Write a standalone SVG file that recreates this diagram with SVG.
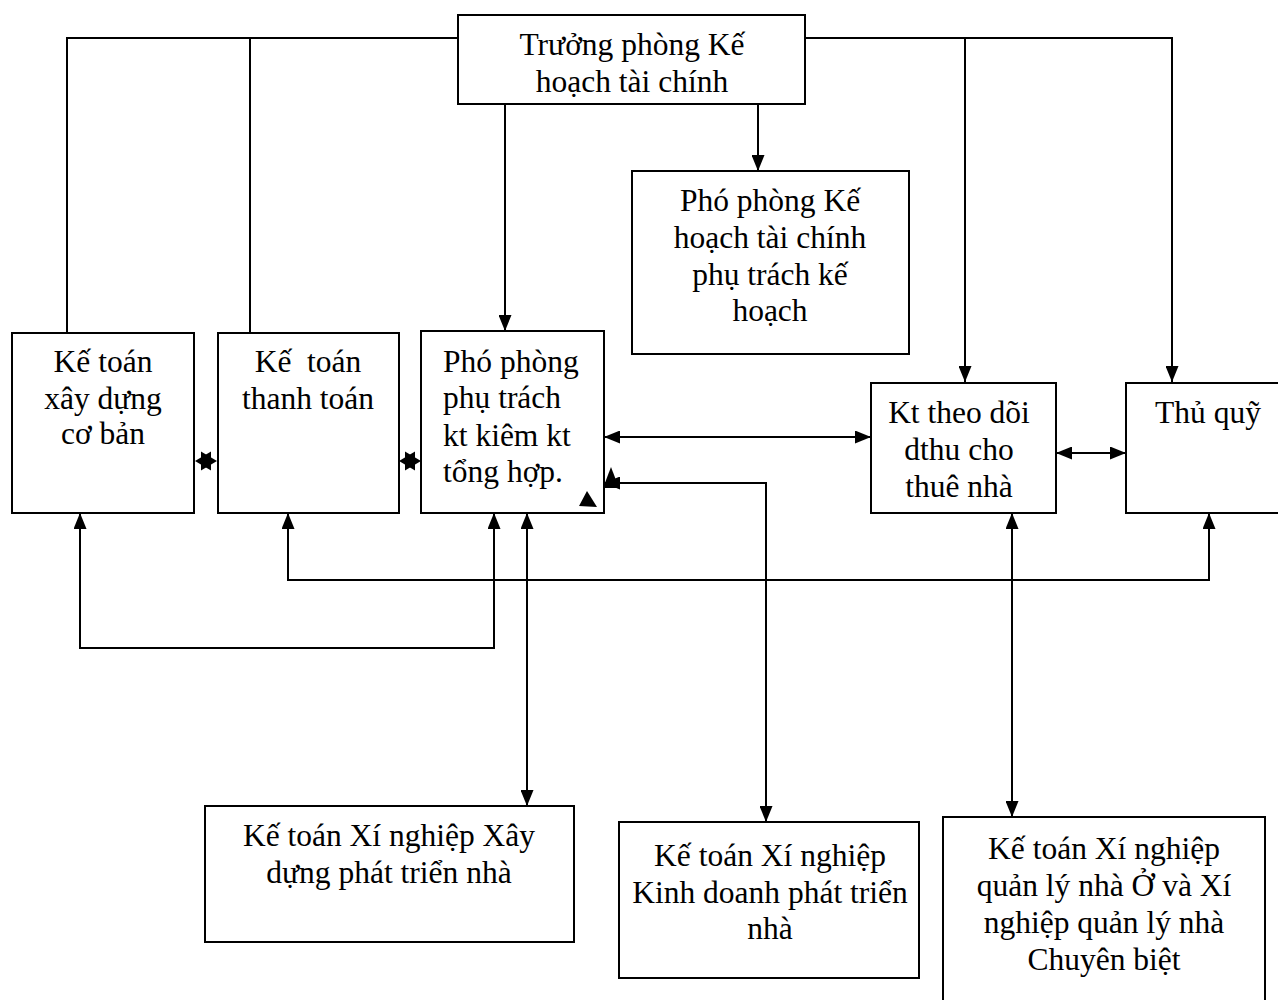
<svg xmlns="http://www.w3.org/2000/svg" width="1278" height="1000" viewBox="0 0 1278 1000">
  <style>
    .box { fill: #ffffff; stroke: #000000; stroke-width: 2; }
    .lbl { font-family: "Liberation Serif", "Times New Roman", serif; font-size: 31.5px; fill: #000000; }
    .c { text-anchor: middle; }
    .wire { fill: none; stroke: #000000; stroke-width: 2; }
    .head { fill: #000000; stroke: none; }
  </style>
  <defs>
    <marker id="arrow" viewBox="0 0 16 13" refX="16" refY="6.5" markerWidth="16" markerHeight="13" markerUnits="userSpaceOnUse" orient="auto-start-reverse">
      <path d="M0,0 L16,6.5 L0,13 z" fill="#000000"/>
    </marker>
  </defs>
  <rect width="1278" height="1000" fill="#ffffff"/>

  <!-- connectors -->
  <g id="connectors">
    <path class="wire" d="M458 38 H67 V333"/>
    <path class="wire" d="M250 38 V333"/>
    <path class="wire" d="M805 38 H1172 V382" marker-end="url(#arrow)"/>
    <path class="wire" d="M965 38 V382" marker-end="url(#arrow)"/>
    <path class="wire" d="M505 104 V331" marker-end="url(#arrow)"/>
    <path class="wire" d="M758 104 V171" marker-end="url(#arrow)"/>
    <path class="wire" d="M604 437 H871" marker-start="url(#arrow)" marker-end="url(#arrow)"/>
    <path class="wire" d="M1056 453 H1126" marker-start="url(#arrow)" marker-end="url(#arrow)"/>
    <path class="wire" d="M604 483 H766 V822" marker-start="url(#arrow)" marker-end="url(#arrow)"/>
    <path class="wire" d="M80 513 V648 H494 V513" marker-start="url(#arrow)" marker-end="url(#arrow)"/>
    <path class="wire" d="M288 513 V580 H1209 V513" marker-start="url(#arrow)" marker-end="url(#arrow)"/>
    <path class="wire" d="M527 513 V806" marker-start="url(#arrow)" marker-end="url(#arrow)"/>
    <path class="wire" d="M1012 513 V817" marker-start="url(#arrow)" marker-end="url(#arrow)"/>
    <!-- collapsed double arrows between adjacent boxes -->
    <polygon class="head" points="217,461 201,451.5 201,470.5"/>
    <polygon class="head" points="195,461 211,451.5 211,470.5"/>
    <polygon class="head" points="421,461 405,451.5 405,470.5"/>
    <polygon class="head" points="399,461 415,451.5 415,470.5"/>
    <polygon class="head" points="611,467 603,488 619,488"/>
  </g>

  <g id="truong-phong">
    <rect class="box" x="458" y="15" width="347" height="89"/>
    <text class="lbl c" x="632" y="55">Trưởng phòng Kế</text>
    <text class="lbl c" x="632" y="92">hoạch tài chính</text>
  </g>

  <g id="pho-phong-ke-hoach">
    <rect class="box" x="632" y="171" width="277" height="183"/>
    <text class="lbl c" x="770" y="211">Phó phòng Kế</text>
    <text class="lbl c" x="770" y="248">hoạch tài chính</text>
    <text class="lbl c" x="770" y="285">phụ trách kế</text>
    <text class="lbl c" x="770" y="321">hoạch</text>
  </g>

  <g id="ke-toan-xdcb">
    <rect class="box" x="12" y="333" width="182" height="180"/>
    <text class="lbl c" x="103" y="372">Kế toán</text>
    <text class="lbl c" x="103" y="409">xây dựng</text>
    <text class="lbl c" x="103" y="444">cơ bản</text>
  </g>

  <g id="ke-toan-thanh-toan">
    <rect class="box" x="218" y="333" width="181" height="180"/>
    <text class="lbl c" x="308" y="372" xml:space="preserve">Kế  toán</text>
    <text class="lbl c" x="308" y="409">thanh toán</text>
  </g>

  <g id="pho-phong-tong-hop">
    <rect class="box" x="421" y="331" width="183" height="182"/>
    <text class="lbl" x="443" y="372">Phó phòng</text>
    <text class="lbl" x="443" y="408">phụ trách</text>
    <text class="lbl" x="443" y="446">kt kiêm kt</text>
    <text class="lbl" x="443" y="482">tổng hợp.</text>
    <polygon class="head" points="587,491 579,506 597,507"/>
  </g>

  <g id="kt-theo-doi">
    <rect class="box" x="871" y="383" width="185" height="130"/>
    <text class="lbl c" x="959" y="423">Kt theo dõi</text>
    <text class="lbl c" x="959" y="460">dthu cho</text>
    <text class="lbl c" x="959" y="497">thuê nhà</text>
  </g>

  <g id="thu-quy">
    <rect class="box" x="1126" y="383" width="164" height="130"/>
    <text class="lbl c" x="1208" y="423">Thủ quỹ</text>
  </g>

  <g id="xn-xay-dung">
    <rect class="box" x="205" y="806" width="369" height="136"/>
    <text class="lbl c" x="389" y="846">Kế toán Xí nghiệp Xây</text>
    <text class="lbl c" x="389" y="883">dựng phát triển nhà</text>
  </g>

  <g id="xn-kinh-doanh">
    <rect class="box" x="619" y="822" width="300" height="156"/>
    <text class="lbl c" x="770" y="866">Kế toán Xí nghiệp</text>
    <text class="lbl c" x="770" y="903">Kinh doanh phát triển</text>
    <text class="lbl c" x="770" y="939">nhà</text>
  </g>

  <g id="xn-quan-ly-nha">
    <rect class="box" x="943" y="817" width="322" height="200"/>
    <text class="lbl c" x="1104" y="859">Kế toán Xí nghiệp</text>
    <text class="lbl c" x="1104" y="896">quản lý nhà Ở và Xí</text>
    <text class="lbl c" x="1104" y="933">nghiệp quản lý nhà</text>
    <text class="lbl c" x="1104" y="970">Chuyên biệt</text>
  </g>
</svg>
